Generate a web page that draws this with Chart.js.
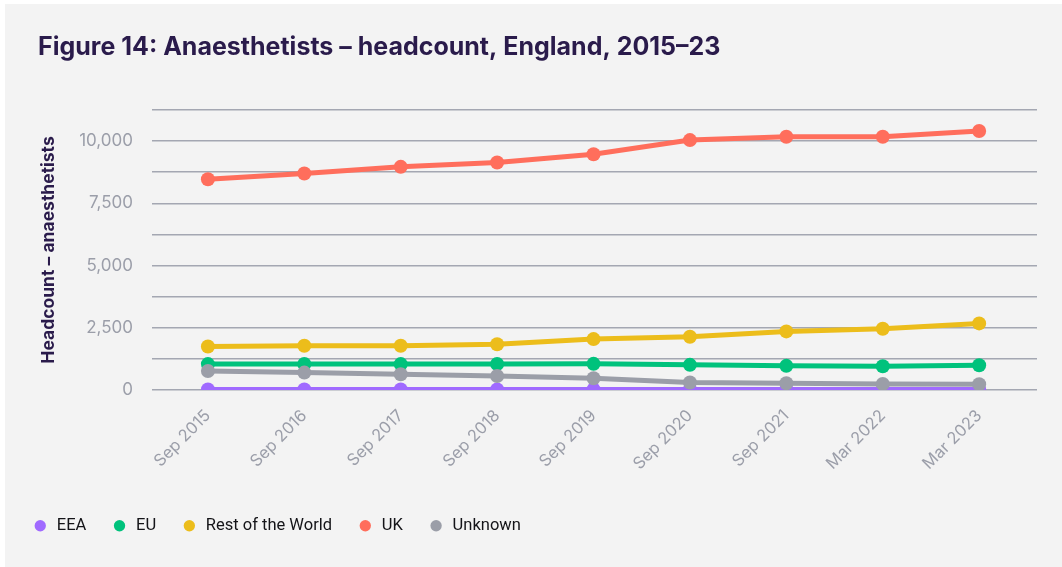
<!DOCTYPE html>
<html>
<head>
<meta charset="utf-8">
<script src="https://cdn.jsdelivr.net/npm/chart.js@4.4.1/dist/chart.umd.min.js"></script>
<style>
  html, body { margin: 0; padding: 0; background: #ffffff; }
  #panel { position: absolute; left: 5px; top: 4px; width: 1057px; height: 563px; background: #f3f3f3; }
</style>
</head>
<body>
<div id="panel"><canvas id="c"></canvas></div>
<script>
const categories = ['Sep 2015','Sep 2016','Sep 2017','Sep 2018','Sep 2019','Sep 2020','Sep 2021','Mar 2022','Mar 2023'];
const eea     = [20, 20, 20, 20, 20, 20, 20, 20, 20];
const eu      = [1040, 1045, 1040, 1045, 1050, 1010, 970, 955, 995];
const rotw    = [1750, 1775, 1775, 1840, 2045, 2140, 2355, 2460, 2675];
const uk      = [8470, 8700, 8965, 9140, 9475, 10040, 10175, 10175, 10405];
const unknown = [765, 700, 630, 565, 470, 300, 270, 245, 230];
const yTickValues = [0, 2500, 5000, 7500, 10000];

const seriesNames  = ['EEA', 'EU', 'Rest of the World', 'UK', 'Unknown'];
const seriesData   = [eea, eu, rotw, uk, unknown];
const seriesColors = ['#a06aff', '#00c27c', '#ecbd1b', '#ff6e5c', '#9b9ea8'];

const FONT = 'Inter, "Noto Sans", sans-serif';
const LEGEND_FONT = 'Roboto, Inter, sans-serif';

const datasets = seriesNames.map((name, k) => ({
  label: name,
  data: seriesData[k].map((v, i) => ({ x: i, y: v })),
  borderColor: seriesColors[k],
  backgroundColor: seriesColors[k],
  pointBackgroundColor: seriesColors[k],
  pointBorderWidth: 0,
  pointRadius: 7,
  pointHoverRadius: 7,
  borderWidth: 5,
  tension: 0,
  order: seriesNames.length - k
}));

const legendShift = {
  id: 'legendShift',
  afterLayout(chart) {
    const lg = chart.legend;
    const dx = 2 - lg.left;
    lg.left += dx; lg.right += dx;
  }
};

new Chart(document.getElementById('c'), {
  type: 'line',
  data: { datasets },
  plugins: [legendShift],
  options: {
    responsive: true,
    maintainAspectRatio: false,
    animation: false,
    layout: { padding: { left: 33, right: 25, top: 0, bottom: 23 } },
    plugins: {
      title: {
        display: true,
        text: 'Figure 14: Anaesthetists \u2013 headcount, England, 2015\u201323',
        align: 'start',
        color: '#2a1b4b',
        font: { family: FONT, size: 25, weight: 'bold' },
        padding: { top: 28, bottom: 48 }
      },
      legend: {
        position: 'bottom',
        align: 'start',
        labels: {
          usePointStyle: true,
          pointStyle: 'circle',
          boxWidth: 18,
          boxHeight: 8,
          padding: 25,
          color: '#141418',
          font: { family: LEGEND_FONT, size: 16.5 },
          sort: (a, b) => a.datasetIndex - b.datasetIndex,
          generateLabels(chart) {
            const items = Chart.defaults.plugins.legend.labels.generateLabels(chart);
            items.forEach(it => { it.lineWidth = 0; it.fillStyle = seriesColors[it.datasetIndex]; it.strokeStyle = seriesColors[it.datasetIndex]; });
            return items;
          }
        }
      },
      tooltip: { enabled: false }
    },
    scales: {
      x: {
        type: 'linear',
        min: -0.58,
        max: 8.6,
        afterBuildTicks(axis) { axis.ticks = categories.map((c, i) => ({ value: i })); },
        afterFit(axis) { axis.height = 102.5; },
        grid: { display: false, drawTicks: false },
        border: { display: false },
        ticks: {
          autoSkip: false,
          minRotation: 45,
          maxRotation: 45,
          padding: 16,
          color: '#9b9ea9',
          font: { family: FONT, size: 16.5 },
          callback: (v) => categories[v] ?? ''
        }
      },
      y: {
        min: 0,
        max: 11250,
        afterBuildTicks(axis) {
          const t = [];
          for (let v = 0; v <= 11250; v += 1250) t.push({ value: v });
          axis.ticks = t;
        },
        afterFit(axis) { axis.width = 114; },
        grid: { color: '#a4a7b2', lineWidth: 1.5, drawTicks: false },
        border: { display: false },
        ticks: {
          padding: 19,
          color: '#9b9ea9',
          font: { family: FONT, size: 17 },
          callback: (v) => yTickValues.includes(v) ? v.toLocaleString('en-US') : ''
        },
        title: {
          display: true,
          text: 'Headcount \u2013 anaesthetists',
          color: '#2a1b4b',
          font: { family: FONT, size: 17.5, weight: 'bold' },
          padding: { top: 0, bottom: 0 }
        }
      }
    }
  }
});
</script>
</body>
</html>
